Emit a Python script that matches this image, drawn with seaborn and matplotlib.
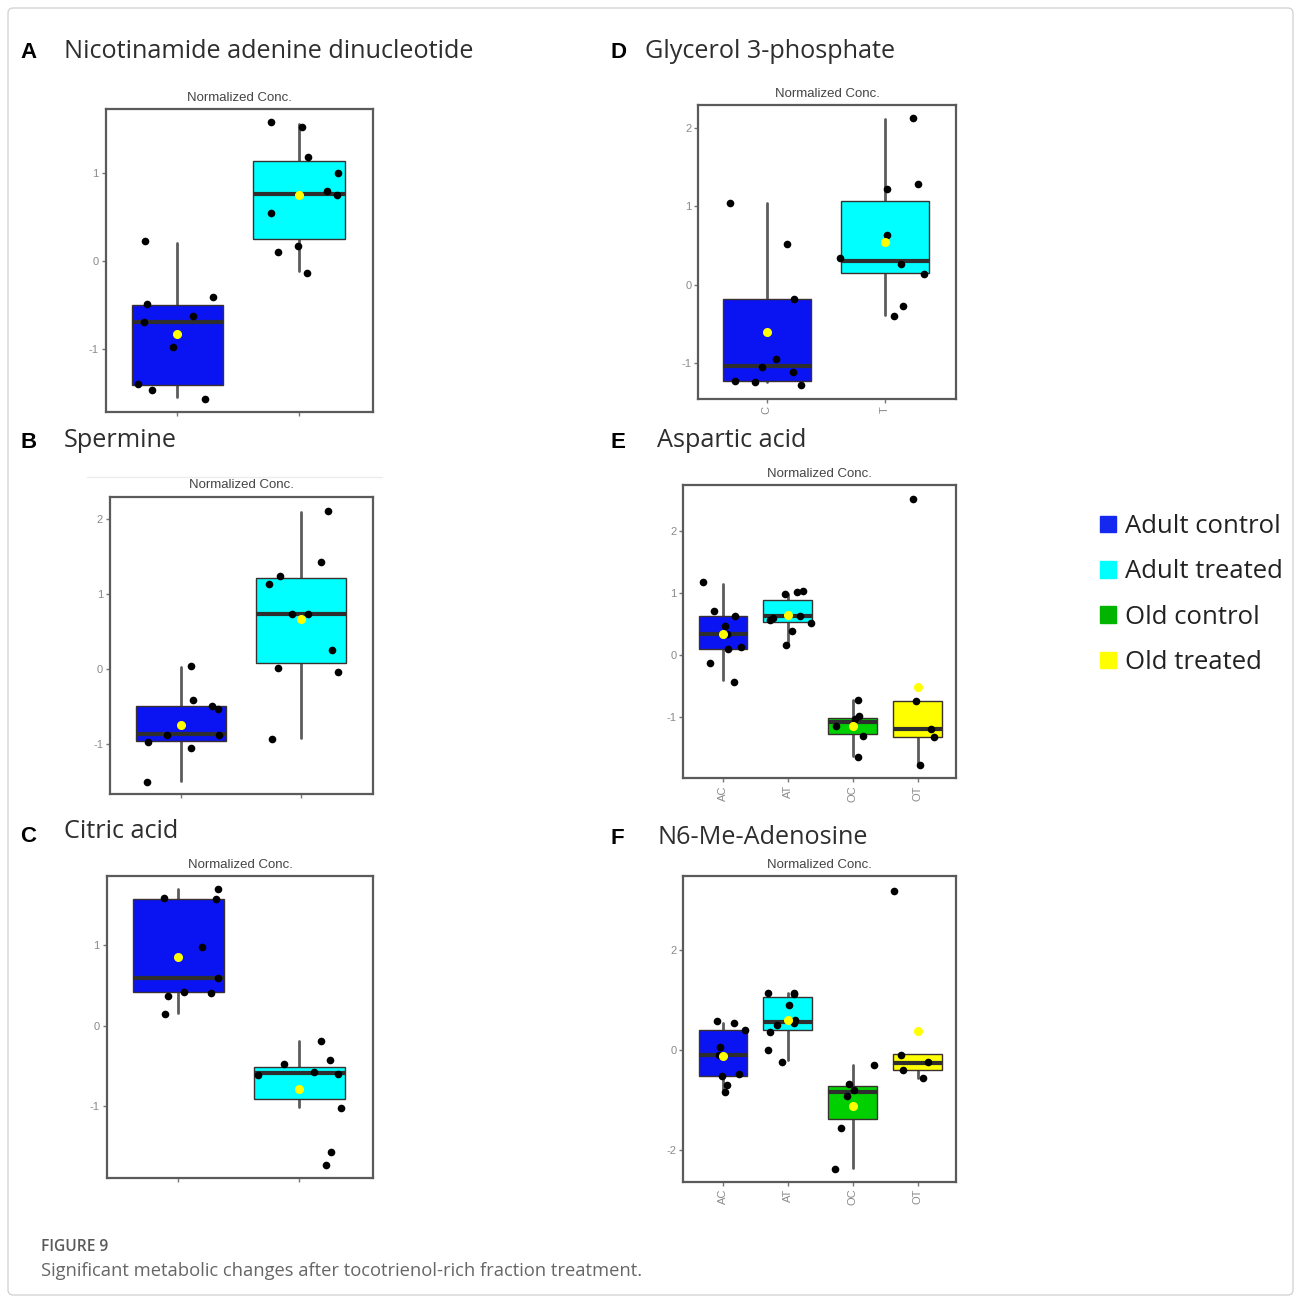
import numpy as np
import pandas as pd
import matplotlib
matplotlib.use("Agg")
import matplotlib.pyplot as plt
import seaborn as sns
from matplotlib.patches import Patch, FancyBboxPatch
from matplotlib.lines import Line2D

sns.set_theme(style="white")
plt.rcParams['font.family'] = ['Liberation Sans', 'DejaVu Sans']

# ---------------- data ----------------
GROUP_NAMES = ["Adult control", "Adult treated", "Old control", "Old treated"]
GROUP_COLORS = ["#0A14F2", "#00FFFF", "#00D000", "#FFFF00"]
LEGEND_COLORS = ["#1428F0", "#00FFFF", "#00B400", "#FFFF00"]

# Panel A: Nicotinamide adenine dinucleotide (groups C, T)
A_title = "Nicotinamide adenine dinucleotide"
A_groups = ["C", "T"]
A_C = [-0.41, -0.62, -0.48, -0.69, 0.23, -0.97, -1.39, -1.46, -1.57]
A_T = [1.58, 1.19, 1.53, 1.00, 0.80, 0.75, 0.55, 0.17, 0.11, -0.13]
A_q1 = [-1.41, 0.26]
A_med = [-0.69, 0.77]
A_q3 = [-0.50, 1.14]
A_lo = [-1.54, -0.11]
A_hi = [0.21, 1.56]
A_mean = [-0.83, 0.75]

# Panel B: Spermine
B_title = "Spermine"
B_groups = ["C", "T"]
B_C = [0.04, -0.54, -0.50, -0.42, -0.88, -0.88, -0.97, -1.05, -1.51]
B_T = [2.11, 1.43, 1.24, 1.13, 0.74, 0.74, 0.25, 0.01, -0.04, -0.93]
B_q1 = [-0.96, 0.08]
B_med = [-0.87, 0.74]
B_q3 = [-0.50, 1.21]
B_lo = [-1.50, -0.92]
B_hi = [0.02, 2.10]
B_mean = [-0.75, 0.67]

# Panel C: Citric acid
C_title = "Citric acid"
C_groups = ["C", "T"]
C_C = [1.69, 1.56, 1.58, 0.97, 0.59, 0.41, 0.40, 0.37, 0.14]
C_T = [-0.19, -0.48, -0.43, -0.61, -0.57, -0.60, -1.02, -1.57, -1.72]
C_q1 = [0.41, -0.91]
C_med = [0.59, -0.59]
C_q3 = [1.56, -0.51]
C_lo = [0.15, -1.01]
C_hi = [1.69, -0.19]
C_mean = [0.85, -0.78]

# Panel D: Glycerol 3-phosphate
D_title = "Glycerol 3-phosphate"
D_groups = ["C", "T"]
D_C = [0.52, 1.05, -0.18, -0.95, -1.05, -1.23, -1.25, -1.12, -1.29]
D_T = [2.13, 1.29, 1.22, 0.64, 0.26, 0.34, 0.14, -0.27, -0.40]
D_q1 = [-1.24, 0.15]
D_med = [-1.04, 0.30]
D_q3 = [-0.18, 1.07]
D_lo = [-1.25, -0.39]
D_hi = [1.04, 2.12]
D_mean = [-0.61, 0.55]

# Panel E: Aspartic acid (4 groups)
E_title = "Aspartic acid"
E_groups = ["AC", "AT", "OC", "OT"]
E_AC = [1.17, 0.71, 0.62, 0.47, 0.34, 0.13, 0.10, -0.13, -0.44]
E_AT = [1.03, 1.01, 0.98, 0.56, 0.62, 0.59, 0.52, 0.39, 0.16]
E_OC = [-0.73, -0.99, -1.04, -1.15, -1.30, -1.64]
E_OT = [2.51, -0.74, -1.20, -1.33, -1.77]
E_q1 = [0.10, 0.53, -1.27, -1.33]
E_med = [0.34, 0.62, -1.09, -1.19]
E_q3 = [0.62, 0.89, -1.01, -0.74]
E_lo = [-0.40, 0.17, -1.63, -1.76]
E_hi = [1.15, 0.99, -0.73, -0.74]
E_mean = [0.33, 0.64, -1.14, -0.51]

# Panel F: N6-Me-Adenosine
F_title = "N6-Me-Adenosine"
F_groups = ["AC", "AT", "OC", "OT"]
F_AC = [0.57, 0.53, 0.39, 0.05, -0.10, -0.48, -0.53, -0.70, -0.85]
F_AT = [1.13, 1.11, 1.13, 0.90, 0.50, 0.53, 0.59, 0.35, -0.01, -0.25]
F_OC = [-0.30, -0.68, -0.81, -0.91, -1.56, -2.38]
F_OT = [3.18, -0.10, -0.25, -0.40, -0.57]
F_q1 = [-0.53, 0.39, -1.38, -0.40]
F_med = [-0.10, 0.56, -0.84, -0.26]
F_q3 = [0.39, 1.06, -0.72, -0.09]
F_lo = [-0.81, -0.21, -2.36, -0.57]
F_hi = [0.53, 1.13, -0.30, -0.09]
F_mean = [-0.13, 0.59, -1.11, 0.37]

# ---------------- figure ----------------
W, H = 1296, 1302
fig = plt.figure(figsize=(W / 100, H / 100), dpi=100)
fig.patch.set_facecolor("white")

border = FancyBboxPatch((8 / W, 1 - 1295 / H), 1285 / W, 1287 / H,
                        boxstyle="round,pad=0,rounding_size=0.004",
                        transform=fig.transFigure, fill=False,
                        edgecolor="#d4d4d4", linewidth=1.0)
fig.patches.append(border)

# faint separator line under "Spermine" heading
fig.lines.append(Line2D([87 / W, 382 / W], [1 - 477 / H, 1 - 477 / H],
                        transform=fig.transFigure, color="#ececec",
                        linewidth=1.0))


def px_axes(l, r, t, b):
    return fig.add_axes([l / W, 1 - b / H, (r - l) / W, (b - t) / H])


def draw_panel(ax, groups, ticklabels, values, q1, med, q3, lo, hi, mean,
               yticks, ylim, xlim, colors, rot):
    rows = []
    for g, vals in zip(groups, values):
        for v in vals:
            rows.append((g, v))
    df = pd.DataFrame(rows, columns=["group", "value"])
    stats = []
    for i in range(len(groups)):
        stats.append(dict(med=med[i], q1=q1[i], q3=q3[i], whislo=lo[i],
                          whishi=hi[i], mean=mean[i], fliers=[]))
    bp = ax.bxp(stats, positions=list(range(len(groups))), widths=0.75,
                patch_artist=True, showmeans=True, showfliers=False,
                showcaps=False, manage_ticks=False,
                boxprops=dict(edgecolor="#3a3030", linewidth=1.0),
                medianprops=dict(color="#2e2e2e", linewidth=3.0),
                whiskerprops=dict(color="#5c5c5c", linewidth=2.0),
                meanprops=dict(marker="o", markerfacecolor="#FFFF00",
                               markeredgecolor="#FFFF00", markersize=5.5))
    for patch, c in zip(bp["boxes"], colors):
        patch.set_facecolor(c)
        patch.set_zorder(2)
    for w in bp["whiskers"]:
        w.set_zorder(1.5)
    for m in bp["medians"]:
        m.set_zorder(2.5)
    sns.stripplot(data=df, x="group", y="value", order=groups, color="black",
                  size=5.5, jitter=0.38, ax=ax, zorder=3, native_scale=False)
    for m in bp["means"]:
        m.set_zorder(4)
    ax.set_xlim(*xlim)
    ax.set_ylim(*ylim)
    ax.set_yticks(yticks)
    ax.set_yticklabels([str(t) for t in yticks])
    ax.set_xticks(list(range(len(groups))))
    ax.set_xticklabels(ticklabels, rotation=rot)
    ax.set_xlabel("")
    ax.set_ylabel("")
    ax.tick_params(axis="both", which="major", length=3, width=1,
                   color="#777777", labelcolor="#8a8a8a", labelsize=8,
                   pad=2, bottom=True, left=True)
    for s in ax.spines.values():
        s.set_color("#5a5a5a")
        s.set_linewidth(1.6)
    ax.set_title("Normalized Conc.", fontsize=9.5, color="#444444", pad=6)


two = GROUP_COLORS[:2]
axA = px_axes(105.7, 373.3, 109.3, 411.7)
draw_panel(axA, A_groups, ["", ""], [A_C, A_T], A_q1, A_med, A_q3, A_lo, A_hi,
           A_mean, [-1, 0, 1], (-1.71, 1.73), (-0.59, 1.61), two, 0)
axB = px_axes(110, 373.3, 496.7, 794)
draw_panel(axB, B_groups, ["", ""], [B_C, B_T], B_q1, B_med, B_q3, B_lo, B_hi,
           B_mean, [-1, 0, 1, 2], (-1.67, 2.30), (-0.59, 1.60), two, 0)
axC = px_axes(106.7, 373.3, 876, 1178.3)
draw_panel(axC, C_groups, ["", ""], [C_C, C_T], C_q1, C_med, C_q3, C_lo, C_hi,
           C_mean, [-1, 0, 1], (-1.89, 1.85), (-0.59, 1.61), two, 0)
axD = px_axes(698.3, 956, 105, 399.3)
draw_panel(axD, D_groups, D_groups, [D_C, D_T], D_q1, D_med, D_q3, D_lo, D_hi,
           D_mean, [-1, 0, 1, 2], (-1.47, 2.30), (-0.58, 1.60), two, 90)
axE = px_axes(683.3, 956, 485, 778.3)
draw_panel(axE, E_groups, E_groups, [E_AC, E_AT, E_OC, E_OT], E_q1, E_med,
           E_q3, E_lo, E_hi, E_mean, [-1, 0, 1, 2], (-1.99, 2.74),
           (-0.61, 3.59), GROUP_COLORS, 90)
axF = px_axes(683.3, 956, 876, 1181.7)
draw_panel(axF, F_groups, F_groups, [F_AC, F_AT, F_OC, F_OT], F_q1, F_med,
           F_q3, F_lo, F_hi, F_mean, [-2, 0, 2], (-2.63, 3.47),
           (-0.61, 3.59), GROUP_COLORS, 90)

# panel letters and titles
title_font = ["Open Sans", "DejaVu Sans"]
for letter, lx, ly, title, tx, ty in [
        ("A", 20, 52, A_title, 64, 52),
        ("D", 611, 52, D_title, 645, 52),
        ("B", 20, 443, B_title, 64, 441),
        ("E", 611, 443, E_title, 657, 441),
        ("C", 20, 837, C_title, 64, 832),
        ("F", 611, 838, F_title, 657, 838)]:
    fig.text(lx / W, 1 - ly / H, letter, fontsize=16, fontweight="bold",
             color="black", va="center", ha="left",
             family=["Liberation Sans", "DejaVu Sans"])
    fig.text(tx / W, 1 - ty / H, title, fontsize=18.2, color="#2e2e2e",
             va="center", ha="left", family=title_font)

# legend
handles = [Patch(facecolor=c, edgecolor=c) for c in LEGEND_COLORS]
fig.legend(handles, GROUP_NAMES, loc="upper left",
           bbox_to_anchor=(1100 / W, 1 - 514 / H), frameon=False,
           prop=dict(family=title_font, size=18.5), handlelength=0.62,
           handleheight=0.62, handletextpad=0.35, labelspacing=0.79,
           borderpad=0, borderaxespad=0, labelcolor="#222222")

# caption
fig.text(41 / W, 1 - 1247 / H, "FIGURE 9", fontsize=11.2, color="#5a5a5a",
         va="center", ha="left", family=["Open Sans", "DejaVu Sans"],
         fontweight="semibold")
fig.text(41 / W, 1 - 1271 / H,
         "Significant metabolic changes after tocotrienol-rich fraction treatment.",
         fontsize=13.2, color="#666666", va="center", ha="left",
         family=["Open Sans", "DejaVu Sans"])

fig.savefig("out.png", dpi=100, facecolor="white")
